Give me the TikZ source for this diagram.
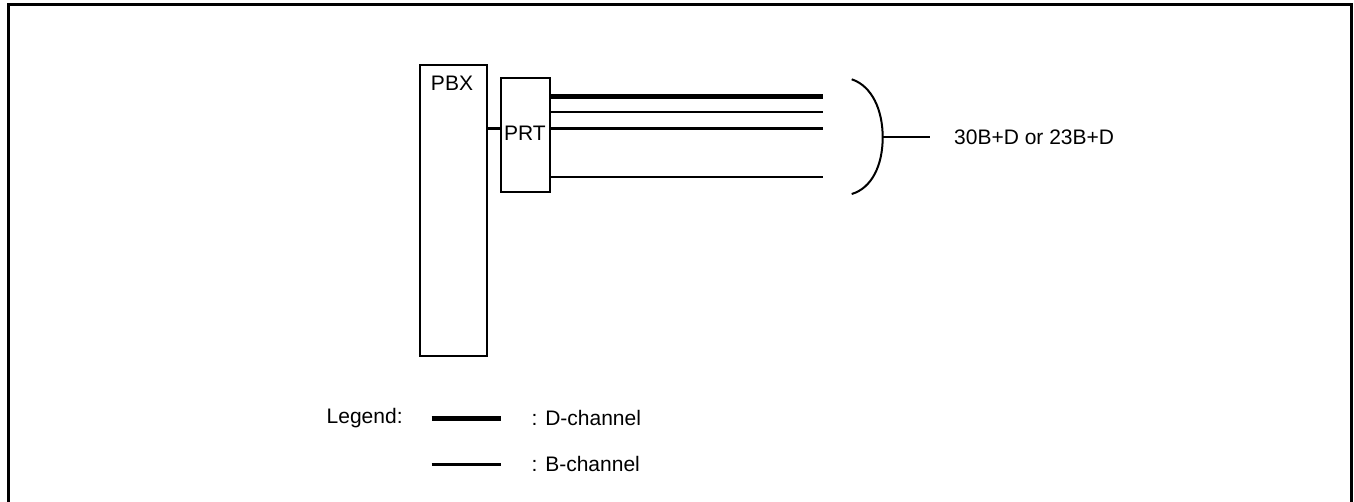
\documentclass[tikz,border=0pt]{standalone}
\usepackage{fontspec}
\setmainfont{Liberation Sans}
\begin{document}
\begin{tikzpicture}[x=1pt,y=-1pt,
  txt/.style={font=\fontsize{21}{24}\selectfont, inner sep=0pt},
  boxst/.style={draw, line width=2.2pt},
  bline/.style={line width=2.4pt},
  dline/.style={line width=5pt},
  frame/.style={line width=3pt}]
\useasboundingbox (0,0) rectangle (1354,501);
\draw[frame] (8.5,520) -- (8.5,4.5) -- (1351.5,4.5) -- (1351.5,520);
% PBX
\node[boxst, minimum width=67pt, minimum height=291.5pt, inner sep=0pt, anchor=north west] (pbx) at (419,63.5) {};
\node[txt] (pbxl) at (452,83.5) {PBX};
% PRT
\node[boxst, minimum width=49pt, minimum height=114pt, inner sep=0pt, anchor=north west] (prt) at (500,77) {};
\node[txt] (prtl) at (525,133) {PRT};
\draw[bline] (pbx.east |- 0,128.3) -- (prt.west |- 0,128.3);
% channels
\coordinate (e1) at (822.7,96.7);
\coordinate (e2) at (822.7,111.7);
\coordinate (e3) at (822.7,128.3);
\coordinate (e4) at (822.7,176.7);
\draw[dline] (prt.east |- e1) -- (e1);
\draw[bline] (prt.east |- e2) -- (e2);
\draw[bline] (prt.east |- e3) -- (e3);
\draw[bline] (prt.east |- e4) -- (e4);
% brace
\coordinate (bt) at (851.7,79.3);
\coordinate (bm) at (882.7,137.3);
\coordinate (bb) at (851.7,194);
\draw[line width=2pt] (bt) .. controls (872,86) and (882.7,110) .. (bm)
  .. controls (882.7,165) and (872,188) .. (bb);
\node[txt, anchor=west] (lab) at (954,137.5) {30B+D or 23B+D};
\coordinate (le) at (930,137.3);
\draw[line width=2pt] (bm) -- (le);
% legend
\node[txt, anchor=west] (leg) at (326.5,418) {Legend:};
\coordinate (d1) at (431.7,418.3);
\coordinate (d2) at (501,418.3);
\coordinate (b1) at (431.7,464.3);
\coordinate (b2) at (501,464.3);
\draw[dline] (d1) -- (d2);
\draw[bline] (b1) -- (b2);
\node[txt, anchor=west] (dl) at (531.5,418) {: D-channel};
\node[txt, anchor=west] (bl) at (531.5,463.5) {: B-channel};
\end{tikzpicture}
\end{document}
